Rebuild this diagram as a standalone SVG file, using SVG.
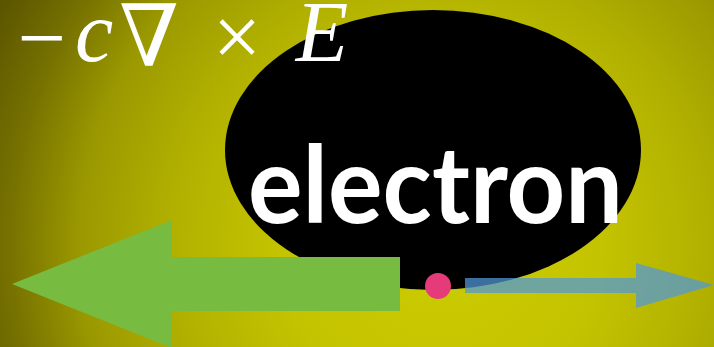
<svg xmlns="http://www.w3.org/2000/svg" width="714" height="347" viewBox="0 0 714 347">
<defs>
<radialGradient id="bg" gradientUnits="userSpaceOnUse" cx="440" cy="245" r="540">
<stop offset="0" stop-color="#cccc00"/>
<stop offset="0.3" stop-color="#c4c300"/>
<stop offset="0.5" stop-color="#b1b000"/>
<stop offset="0.67" stop-color="#9a9800"/>
<stop offset="0.8" stop-color="#767100"/>
<stop offset="0.92" stop-color="#5c5600"/>
<stop offset="1" stop-color="#524b00"/>
</radialGradient>
<style>
.math{font-family:"Liberation Serif","DejaVu Serif",serif;fill:#fff;font-size:86px;text-anchor:middle}
.it{font-style:italic}
.label{font-family:Lato,"Open Sans","DejaVu Sans",sans-serif;fill:#fff;font-size:108px;font-weight:bold}
</style>
</defs>
<rect width="714" height="347" fill="url(#bg)"/>
<g id="electron">
<ellipse cx="433" cy="150" rx="208" ry="140" fill="#000"/>
<text class="label" x="248" y="223" textLength="375" lengthAdjust="spacingAndGlyphs">electron</text>
</g>
<g id="formula">
<text class="math" x="42" y="67">−</text>
<text class="math it" x="94" y="61">c</text>
<text class="math" x="149" y="66" font-size="78">∇</text>
<text class="math" x="237" y="66">×</text>
<text class="math it" x="322" y="61">E</text>
</g>
<g id="connectors">
<polygon id="force-left" points="400,257 172,257 172,220 12,284 172,348 172,311 400,311" fill="#77bc40"/>
<polygon id="velocity-right" points="465,278 636,278 636,263 714,285 636,308 636,293 465,293" fill="#4f98da" fill-opacity="0.73"/>
</g>
<g id="charge">
<circle cx="438" cy="286" r="13" fill="#e63b7a"/>
</g>
</svg>
